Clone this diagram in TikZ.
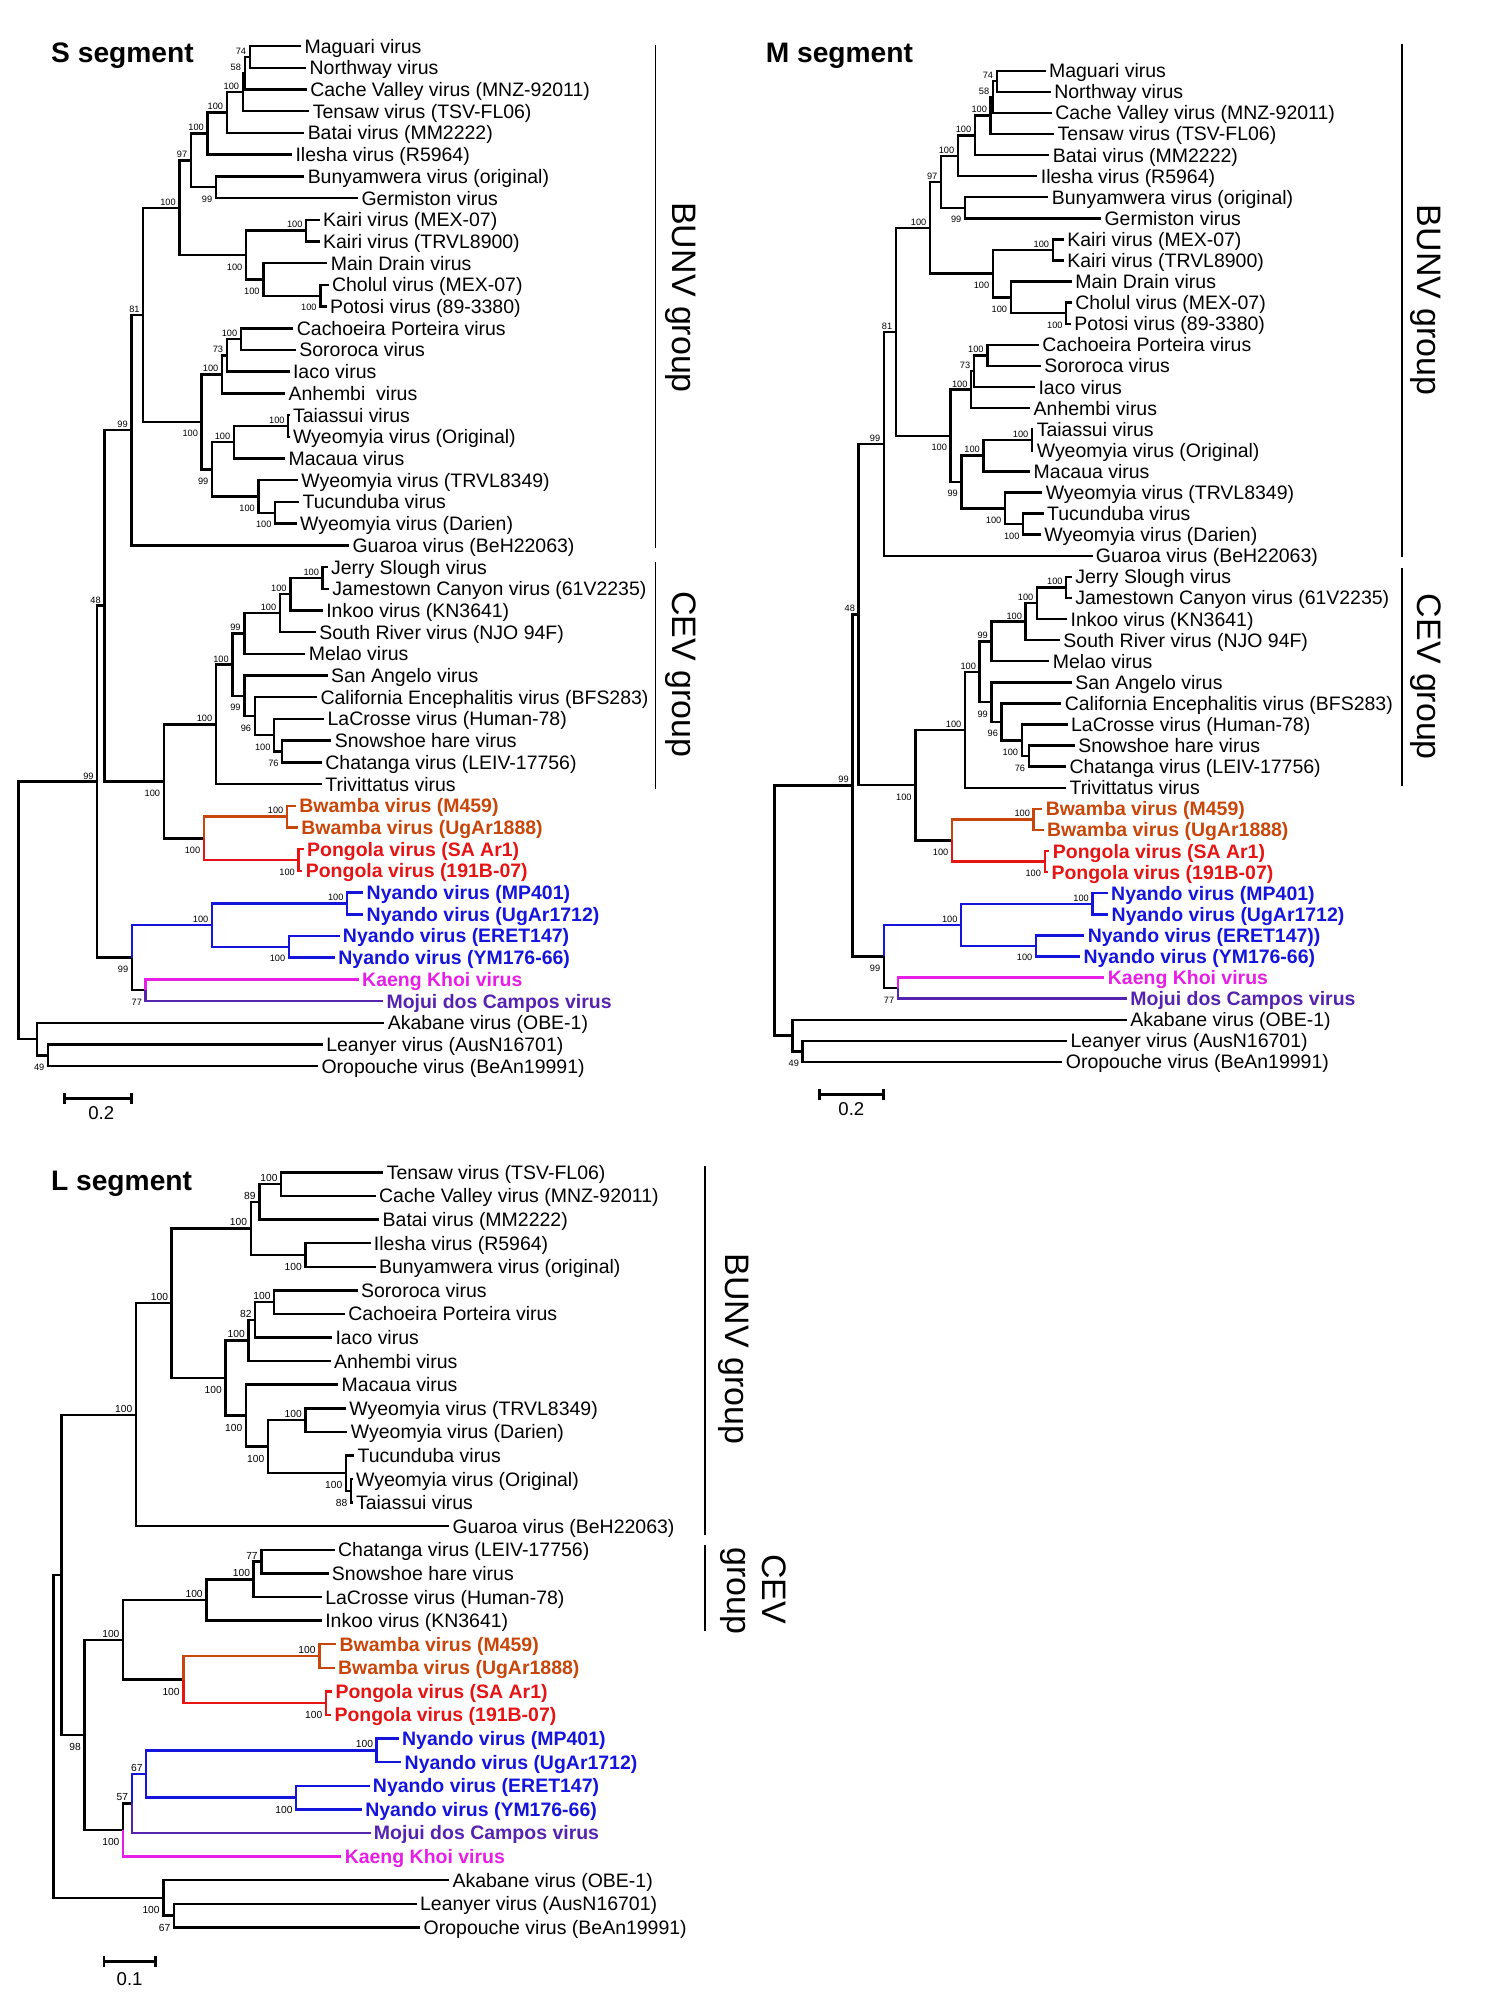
\documentclass[tikz,border=0pt]{standalone}
\usepackage{fontspec}
\setmainfont{Liberation Sans}
\usetikzlibrary{calc,arrows.meta}
\definecolor{bwacol}{RGB}{200,70,10}
\definecolor{pglcol}{RGB}{230,20,20}
\definecolor{nyacol}{RGB}{20,20,220}
\definecolor{kkvcol}{RGB}{230,30,230}
\definecolor{mdccol}{RGB}{85,35,175}
\tikzset{
  br/.style={line width=1.9pt},
  leaf/.style={anchor=west, inner xsep=2.5pt, inner ysep=0pt, text height=10.9pt, text depth=0pt, font=\fontsize{15.2}{16}\selectfont},
  bwa/.style={leaf, font=\fontsize{15.2}{16}\selectfont\bfseries, text=bwacol},
  pgl/.style={leaf, font=\fontsize{15.2}{16}\selectfont\bfseries, text=pglcol},
  nya/.style={leaf, font=\fontsize{15.2}{16}\selectfont\bfseries, text=nyacol},
  kkv/.style={leaf, font=\fontsize{15.2}{16}\selectfont\bfseries, text=kkvcol},
  mdc/.style={leaf, font=\fontsize{15.2}{16}\selectfont\bfseries, text=mdccol},
  bs/.style={font=\fontsize{7.2}{8}\selectfont, inner sep=1.2pt},
  bsa/.style={bs, anchor=south east, xshift=-1.5pt, yshift=0.6pt},
  bsb/.style={bs, anchor=north east, xshift=-1.5pt, yshift=-5.3pt},
  grp/.style={line width=1.3pt},
  grptxt/.style={rotate=-90, inner sep=0pt, font=\fontsize{26.5}{30}\selectfont},
  seg/.style={anchor=base west, inner sep=0pt, font=\fontsize{22}{24}\selectfont\bfseries},
  scl/.style={line width=1.9pt, {Bar[width=8.3pt]}-{Bar[width=8.3pt]}},
  sclab/.style={inner sep=0pt, font=\fontsize{14.5}{16}\selectfont}
}
% internal node: name, x, first child, second child
\newcommand\cladept[4]{%
  \path ($(#3)!.5!(#4)$) coordinate (tmp);
  \coordinate (#1) at (#2,0 |- tmp);}
% same, with its bootstrap value
\newcommand\clade[6]{%
  \cladept{#1}{#2}{#3}{#4}
  \node[#6] (#1b) at (#1) {#5};}
\begin{document}
\begin{tikzpicture}[x=1pt,y=-1pt]
\useasboundingbox (0,0) rectangle (1160,1561);

% ---------- S segment ----------
\node[seg] (stitle) at (39.8,49) {S segment};
\foreach \x/\s/\lab [count=\i] in {
  235/leaf/Maguari virus, 239/leaf/Northway virus, 239.5/leaf/Cache Valley virus (MNZ-92011),
  241.5/leaf/Tensaw virus (TSV-FL06), 237.5/leaf/Batai virus (MM2222), 228/leaf/Ilesha virus (R5964),
  237.5/leaf/Bunyamwera virus (original), 279.5/leaf/Germiston virus, 249.5/leaf/Kairi virus (MEX-07),
  249.5/leaf/Kairi virus (TRVL8900), 255.5/leaf/Main Drain virus, 256.5/leaf/Cholul virus (MEX-07),
  255/leaf/Potosi virus (89-3380), 229/leaf/Cachoeira Porteira virus, 231/leaf/Sororoca virus,
  226/leaf/Iaco virus, 222.5/leaf/Anhembi~ virus, 226/leaf/Taiassui virus,
  226/leaf/Wyeomyia virus (Original), 222.5/leaf/Macaua virus, 232.5/leaf/Wyeomyia virus (TRVL8349),
  233.5/leaf/Tucunduba virus, 231.5/leaf/Wyeomyia virus (Darien), 272.5/leaf/Guaroa virus (BeH22063),
  255.7/leaf/Jerry Slough virus, 256.8/leaf/Jamestown Canyon virus (61V2235), 252/leaf/Inkoo virus (KN3641),
  246.5/leaf/South River virus (NJO 94F), 238.3/leaf/Melao virus, 255.7/leaf/San Angelo virus,
  247.5/leaf/California Encephalitis virus (BFS283), 253/leaf/LaCrosse virus (Human-78), 258.7/leaf/Snowshoe hare virus,
  251.3/leaf/Chatanga virus (LEIV-17756), 251.3/leaf/Trivittatus virus, 231/bwa/Bwamba virus (M459),
  232.5/bwa/Bwamba virus (UgAr1888), 237/pgl/Pongola virus (SA Ar1), 236/pgl/Pongola virus (191B-07),
  283.5/nya/Nyando virus (MP401), 283.5/nya/Nyando virus (UgAr1712), 265/nya/Nyando virus (ERET147),
  261.4/nya/Nyando virus (YM176-66), 280/kkv/Kaeng Khoi virus, 299/mdc/Mojui dos Campos virus,
  300/leaf/Akabane virus (OBE-1), 252/leaf/Leanyer virus (AusN16701), 248.3/leaf/Oropouche virus (BeAn19991)}
  \node[\s] (s\i) at (\x,{36+16.94*(\i-1)}) {\lab};
\clade{sA}{195}{s1}{s2}{74}{bsa}
\clade{sB}{191}{sA}{s3}{58}{bsa}
\clade{sC}{189.5}{sB}{s4}{100}{bsa}
\clade{sD}{177}{sC}{s5}{100}{bsa}
\clade{sE}{162}{sD}{s6}{100}{bsa}
\clade{sF}{168.5}{s7}{s8}{99}{bsb}
\clade{sG}{149}{sE}{sF}{97}{bsa}
\clade{sH}{239}{s9}{s10}{100}{bsa}
\clade{sI}{250}{s12}{s13}{100}{bsb}
\clade{sJ}{205.5}{s11}{sI}{100}{bsb}
\clade{sK}{192}{sH}{sJ}{100}{bsb}
\clade{sL}{140}{sG}{sK}{100}{bsa}
\clade{sM}{188}{s14}{s15}{100}{bsa}
\clade{sN}{177}{sM}{s16}{73}{bsa}
\clade{sO}{173.3}{sN}{s17}{100}{bsa}
\clade{sP}{225}{s18}{s19}{100}{bsa}
\clade{sQ}{182.6}{sP}{s20}{100}{bsa}
\clade{sR}{214.8}{s22}{s23}{100}{bsb}
\clade{sS}{201.8}{s21}{sR}{100}{bsb}
\clade{sT}{165.5}{sQ}{sS}{99}{bsb}
\clade{sU}{157.4}{sO}{sT}{100}{bsb}
\clade{sV}{111.8}{sL}{sU}{81}{bsa}
\clade{sW}{102.6}{sV}{s24}{99}{bsa}
\clade{sa}{251.8}{s25}{s26}{100}{bsa}
\clade{sb}{226.6}{sa}{s27}{100}{bsa}
\clade{sc}{218.5}{sb}{s28}{100}{bsa}
\clade{sd}{190.7}{sc}{s29}{99}{bsa}
\clade{se}{220.3}{s33}{s34}{76}{bsb}
\clade{sf}{214}{s32}{se}{100}{bsb}
\clade{sg}{198.9}{s31}{sf}{96}{bsb}
\clade{sh}{190.7}{s30}{sg}{99}{bsb}
\clade{si}{181.4}{sd}{sh}{100}{bsa}
\clade{sj}{168.5}{si}{s35}{100}{bsa}
\clade{sk}{224}{s36}{s37}{100}{bsa}
\clade{sl}{233}{s38}{s39}{100}{bsb}
\clade{sm}{159.2}{sk}{sl}{100}{bsb}
\clade{sn}{127.8}{sj}{sm}{100}{bsb}
\clade{so}{271}{s40}{s41}{100}{bsa}
\clade{sp}{225.5}{s42}{s43}{100}{bsb}
\clade{sq}{165.5}{so}{sp}{100}{bsa}
\clade{sr}{113.7}{s44}{s45}{77}{bsb}
\clade{ss}{103}{sq}{sr}{99}{bsb}
\clade{st}{81.5}{sW}{sn}{48}{bsa}
\clade{su}{75.9}{st}{ss}{99}{bsa}
\clade{sv}{37.5}{s47}{s48}{49}{bsb}
\cladept{sw}{28.7}{s46}{sv}
\cladept{sroot}{14.5}{su}{sw}
\coordinate (sbar0) at (49.5,857.3);
\coordinate (sbar1) at (103.5,857.3);
\draw[scl] (sbar0) -- (sbar1);
\node[sclab] (sbarl) at (79,868.5) {0.2};
\draw[grp] (511.5,35) -- (511.5,427.5);
\draw[grp] (511.5,438.5) -- (511.5,616);
\node[grptxt] (sbunv) at (531,232.3) {BUNV group};
\node[grptxt] (scev) at (531,526.3) {CEV group};

% ---------- M segment ----------
\node[seg] (mtitle) at (597.5,49) {M segment};
\foreach \x/\s/\lab [count=\i] in {
  816.1/leaf/Maguari virus, 820.2/leaf/Northway virus, 821/leaf/Cache Valley virus (MNZ-92011),
  822.8/leaf/Tensaw virus (TSV-FL06), 819.1/leaf/Batai virus (MM2222), 809.7/leaf/Ilesha virus (R5964),
  818.3/leaf/Bunyamwera virus (original), 859.4/leaf/Germiston virus, 830.3/leaf/Kairi virus (MEX-07),
  830.3/leaf/Kairi virus (TRVL8900), 836.6/leaf/Main Drain virus, 836.6/leaf/Cholul virus (MEX-07),
  835.9/leaf/Potosi virus (89-3380), 810.9/leaf/Cachoeira Porteira virus, 812.4/leaf/Sororoca virus,
  807.9/leaf/Iaco virus, 804.1/leaf/Anhembi virus, 806.5/leaf/Taiassui virus,
  806.5/leaf/Wyeomyia virus (Original), 804.1/leaf/Macaua virus, 813.5/leaf/Wyeomyia virus (TRVL8349),
  814.6/leaf/Tucunduba virus, 812.4/leaf/Wyeomyia virus (Darien), 852.7/leaf/Guaroa virus (BeH22063),
  836.6/leaf/Jerry Slough virus, 836.6/leaf/Jamestown Canyon virus (61V2235), 832.9/leaf/Inkoo virus (KN3641),
  827.3/leaf/South River virus (NJO 94F), 819.1/leaf/Melao virus, 836.6/leaf/San Angelo virus,
  828.4/leaf/California Encephalitis virus (BFS283), 833.3/leaf/LaCrosse virus (Human-78), 838.9/leaf/Snowshoe hare virus,
  832.1/leaf/Chatanga virus (LEIV-17756), 832.1/leaf/Trivittatus virus, 813.5/bwa/Bwamba virus (M459),
  814.6/bwa/Bwamba virus (UgAr1888), 819.1/pgl/Pongola virus (SA Ar1), 818/pgl/Pongola virus (191B-07),
  864.6/nya/Nyando virus (MP401), 865/nya/Nyando virus (UgAr1712), 846.3/nya/Nyando virus (ERET147)),
  843/nya/Nyando virus (YM176-66), 862/kkv/Kaeng Khoi virus, 879.6/mdc/Mojui dos Campos virus,
  879.6/leaf/Akabane virus (OBE-1), 832.9/leaf/Leanyer virus (AusN16701), 829.2/leaf/Oropouche virus (BeAn19991)}
  \node[\s] (m\i) at (\x,{55.2+16.46*(\i-1)}) {\lab};
\clade{mA}{778}{m1}{m2}{74}{bsa}
\clade{mB}{775}{mA}{m3}{58}{bsa}
\clade{mC}{773.2}{mB}{m4}{100}{bsa}
\clade{mD}{760.9}{mC}{m5}{100}{bsa}
\clade{mE}{747.6}{mD}{m6}{100}{bsa}
\clade{mF}{753.2}{m7}{m8}{99}{bsb}
\clade{mG}{734.5}{mE}{mF}{97}{bsa}
\clade{mH}{821.7}{m9}{m10}{100}{bsa}
\clade{mI}{832.2}{m12}{m13}{100}{bsb}
\clade{mJ}{788.9}{m11}{mI}{100}{bsb}
\clade{mK}{775}{mH}{mJ}{100}{bsb}
\clade{mL}{725.9}{mG}{mK}{100}{bsa}
\clade{mM}{770.6}{m14}{m15}{100}{bsa}
\clade{mN}{760.1}{mM}{m16}{73}{bsa}
\clade{mO}{758}{mN}{m17}{100}{bsa}
\clade{mP}{805.5}{m18}{m19}{100}{bsa}
\clade{mQ}{767.6}{mP}{m20}{100}{bsa}
\clade{mR}{798.6}{m22}{m23}{100}{bsb}
\clade{mS}{784.4}{m21}{mR}{100}{bsb}
\clade{mT}{750.5}{mQ}{mS}{99}{bsb}
\clade{mU}{742}{mO}{mT}{100}{bsb}
\clade{mV}{699.3}{mL}{mU}{81}{bsa}
\clade{mW}{689.9}{mV}{m24}{99}{bsa}
\clade{ma}{832.2}{m25}{m26}{100}{bsa}
\clade{mb}{809.4}{ma}{m27}{100}{bsa}
\clade{mc}{800.5}{mb}{m28}{100}{bsa}
\clade{md}{773.9}{mc}{m29}{99}{bsa}
\clade{me}{803}{m33}{m34}{76}{bsb}
\clade{mf}{797.5}{m32}{me}{100}{bsb}
\clade{mg}{781.8}{m31}{mf}{96}{bsb}
\clade{mh}{773.9}{m30}{mg}{99}{bsb}
\clade{mi}{764.6}{md}{mh}{100}{bsa}
\clade{mj}{753.2}{mi}{m35}{100}{bsa}
\clade{mk}{806.8}{m36}{m37}{100}{bsa}
\clade{ml}{815.4}{m38}{m39}{100}{bsb}
\clade{mm}{743.1}{mk}{ml}{100}{bsb}
\clade{mn}{714.4}{mj}{mm}{100}{bsb}
\clade{mo}{852.7}{m40}{m41}{100}{bsa}
\clade{mp}{808.6}{m42}{m43}{100}{bsb}
\clade{mq}{750.2}{mo}{mp}{100}{bsa}
\clade{mr}{700.8}{m44}{m45}{77}{bsb}
\clade{ms}{689.9}{mq}{mr}{99}{bsb}
\clade{mt}{670.2}{mW}{mn}{48}{bsa}
\clade{mu}{665.3}{mt}{ms}{99}{bsa}
\clade{mv}{626.5}{m47}{m48}{49}{bsb}
\cladept{mw}{618.6}{m46}{mv}
\cladept{mroot}{604.5}{mu}{mw}
\coordinate (mbar0) at (638.5,854.3);
\coordinate (mbar1) at (690.5,854.3);
\draw[scl] (mbar0) -- (mbar1);
\node[sclab] (mbarl) at (664.5,865.5) {0.2};
\draw[grp] (1094.5,34) -- (1094.5,434.5);
\draw[grp] (1094.5,443.5) -- (1094.5,613.5);
\node[grptxt] (mbunv) at (1112.5,234.3) {BUNV group};
\node[grptxt] (mcev) at (1112.5,528.3) {CEV group};

% S and M trees share the same branching
\foreach \tr in {s,m}{
  \foreach \pa/\ch in {A/1,A/2,B/A,B/3,C/B,C/4,D/C,D/5,E/D,E/6,F/7,F/8,G/E,G/F,H/9,H/10,
      I/12,I/13,J/11,J/I,K/H,K/J,L/G,L/K,M/14,M/15,N/M,N/16,O/N,O/17,P/18,P/19,Q/P,Q/20,
      R/22,R/23,S/21,S/R,T/Q,T/S,U/O,U/T,V/L,V/U,W/V,W/24,a/25,a/26,b/a,b/27,c/b,c/28,
      d/c,d/29,e/33,e/34,f/32,f/e,g/31,g/f,h/30,h/g,i/d,i/h,j/i,j/35,n/j,n/m,s/r,
      t/W,t/n,u/t,u/s,v/47,v/48,w/46,w/v,root/u,root/w}
    \draw[br] (\tr\pa) |- (\tr\ch);
  \foreach \pa/\ch in {k/36,k/37,m/k} \draw[br,bwacol] (\tr\pa) |- (\tr\ch);
  \foreach \pa/\ch in {l/38,l/39,m/l} \draw[br,pglcol] (\tr\pa) |- (\tr\ch);
  \foreach \pa/\ch in {o/40,o/41,p/42,p/43,q/o,q/p,s/q} \draw[br,nyacol] (\tr\pa) |- (\tr\ch);
  \draw[br,kkvcol] (\tr r) |- (\tr44);
  \draw[br,mdccol] (\tr r) |- (\tr45);
}

% ---------- L segment ----------
\begin{scope}[bs/.style={font=\fontsize{8}{9}\selectfont, inner sep=1.2pt}]
\node[seg] (ltitle) at (39.7,929) {L segment};
\foreach \x/\s/\lab [count=\i] in {
  299.2/leaf/Tensaw virus (TSV-FL06), 293.2/leaf/Cache Valley virus (MNZ-92011), 296/leaf/Batai virus (MM2222),
  289.2/leaf/Ilesha virus (R5964), 293.2/leaf/Bunyamwera virus (original), 279.2/leaf/Sororoca virus,
  269.2/leaf/Cachoeira Porteira virus, 259.2/leaf/Iaco virus, 258/leaf/Anhembi virus,
  264/leaf/Macaua virus, 270/leaf/Wyeomyia virus (TRVL8349), 271.2/leaf/Wyeomyia virus (Darien),
  276.4/leaf/Tucunduba virus, 275.2/leaf/Wyeomyia virus (Original), 275.2/leaf/Taiassui virus,
  350.5/leaf/Guaroa virus (BeH22063), 261.2/leaf/Chatanga virus (LEIV-17756), 256.4/leaf/Snowshoe hare virus,
  251.2/leaf/LaCrosse virus (Human-78), 251.2/leaf/Inkoo virus (KN3641), 262.4/bwa/Bwamba virus (M459),
  261.2/bwa/Bwamba virus (UgAr1888), 259.2/pgl/Pongola virus (SA Ar1), 258.4/pgl/Pongola virus (191B-07),
  311.2/nya/Nyando virus (MP401), 313.2/nya/Nyando virus (UgAr1712), 288.4/nya/Nyando virus (ERET147),
  282.4/nya/Nyando virus (YM176-66), 289.2/mdc/Mojui dos Campos virus, 266.4/kkv/Kaeng Khoi virus,
  350.5/leaf/Akabane virus (OBE-1), 325.2/leaf/Leanyer virus (AusN16701), 328/leaf/Oropouche virus (BeAn19991)}
  \node[\s] (l\i) at (\x,{915+18.415*(\i-1)}) {\lab};
\clade{lA}{219.5}{l1}{l2}{100}{bsa}
\clade{lB}{202.4}{lA}{l3}{89}{bsa}
\clade{lC}{238.4}{l4}{l5}{100}{bsb}
\clade{lD}{195.7}{lB}{lC}{100}{bsa}
\clade{lE}{214}{l6}{l7}{100}{bsa}
\clade{lF}{199.2}{lE}{l8}{82}{bsa}
\clade{lG}{194}{lF}{l9}{100}{bsa}
\clade{lH}{238.4}{l11}{l12}{100}{bsa}
\clade{lI}{274}{l14}{l15}{88}{bsb}
\clade{lJ}{270}{l13}{lI}{100}{bsb}
\clade{lK}{209.2}{lH}{lJ}{100}{bsb}
\clade{lL}{192}{l10}{lK}{100}{bsb}
\clade{lM}{176}{lG}{lL}{100}{bsb}
\clade{lN}{134}{lD}{lM}{100}{bsa}
\clade{lO}{106.1}{lN}{l16}{100}{bsa}
\clade{la}{204}{l17}{l18}{77}{bsa}
\clade{lb}{198}{la}{l19}{100}{bsa}
\clade{lc}{161.1}{lb}{l20}{100}{bsa}
\clade{ld}{249.2}{l21}{l22}{100}{bsa}
\clade{le}{254.4}{l23}{l24}{100}{bsb}
\clade{lf}{143.1}{ld}{le}{100}{bsb}
\clade{lg}{96.1}{lc}{lf}{100}{bsa}
\clade{lh}{294}{l25}{l26}{100}{bsa}
\clade{li}{231.2}{l27}{l28}{100}{bsb}
\clade{lj}{114.1}{lh}{li}{67}{bsa}
\clade{lk}{102.9}{lj}{l29}{57}{bsa}
\clade{ll}{96.1}{lk}{l30}{100}{bsb}
\clade{lm}{66}{lg}{ll}{98}{bsb}
\clade{ln}{135.8}{l32}{l33}{67}{bsb}
\clade{lo}{127.5}{l31}{ln}{100}{bsb}
\cladept{lp}{48}{lO}{lm}
\cladept{lroot}{41.6}{lp}{lo}
\foreach \pa/\ch in {A/1,A/2,B/A,B/3,C/4,C/5,D/B,D/C,E/6,E/7,F/E,F/8,G/F,G/9,H/11,H/12,
    I/14,I/15,J/13,J/I,K/H,K/J,L/10,L/K,M/G,M/L,N/D,N/M,O/N,O/16,a/17,a/18,b/a,b/19,
    c/b,c/20,g/c,g/f,l/k,m/g,m/l,n/32,n/33,o/31,o/n,p/O,p/m,root/p,root/o}
  \draw[br] (l\pa) |- (l\ch);
\foreach \pa/\ch in {d/21,d/22,f/d} \draw[br,bwacol] (l\pa) |- (l\ch);
\foreach \pa/\ch in {e/23,e/24,f/e} \draw[br,pglcol] (l\pa) |- (l\ch);
\foreach \pa/\ch in {h/25,h/26,i/27,i/28,j/h,j/i,k/j} \draw[br,nyacol] (l\pa) |- (l\ch);
\draw[br,mdccol] (lk) |- (l29);
\draw[br,kkvcol] (ll) |- (l30);
\coordinate (lbar0) at (80.1,1531.1);
\coordinate (lbar1) at (122.3,1531.1);
\draw[scl] (lbar0) -- (lbar1);
\node[sclab] (lbarl) at (101.2,1544.7) {0.1};
\draw[grp] (550.5,910) -- (550.5,1198);
\draw[grp] (550.5,1205.5) -- (550.5,1273);
\node[grptxt] (lbunv) at (573,1052.9) {BUNV group};
\node[grptxt] (lcev) at (604.3,1240.5) {CEV};
\node[grptxt] (lgroup) at (572.2,1241.5) {group};
\end{scope}
\end{tikzpicture}
\end{document}
